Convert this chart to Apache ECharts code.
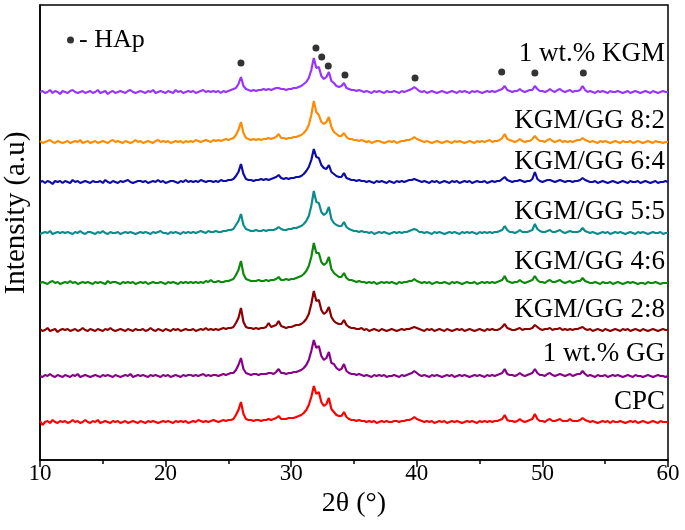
<!DOCTYPE html>
<html>
<head>
<meta charset="utf-8">
<script src="https://cdn.jsdelivr.net/npm/echarts@6/dist/echarts.min.js"></script>
<style>html,body{margin:0;padding:0;background:#fff;}#chart{width:685px;height:530px;}</style>
</head>
<body>
<div id="chart"></div>
<script>
// 2θ sampling: 10.0 to 60.0 in 0.2° steps (251 points)
const thetaStart = 10, thetaStep = 0.2;
const xTicks = [10, 20, 30, 40, 50, 60];
const sampleNames = ['1 wt.% KGM','KGM/GG 8:2','KGM/GG 6:4','KGM/GG 5:5','KGM/GG 4:6','KGM/GG 2:8','1 wt.% GG','CPC'];
const sampleColors = ['#9933ff','#ff8c00','#0c0ca8','#0a8c8c','#0a8a0a','#8b0000','#880088','#ff0000'];
// vertical stacking offsets (a.u.)
const offsets = [368, 318, 278, 227, 177, 130, 84, 38];

const kgm = [
0,1,-1,0,2,-1,1,0,-2,1, 0,-1,1,2,0,-1,0,1,-1,0, 1,-1,0,2,-1,0,1,-2,0,1, -1,0,1,0,-1,1,2,0,-1,0,
1,0,-1,1,0,2,-1,0,1,0, -1,1,0,-1,2,0,1,-1,0,1, 0,1,-1,0,1,2,0,1,0,1, 0,1,-1,1,0,1,2,3,4,8,
15,6,3,2,1,2,1,2,2,3, 2,3,2,3,4,4,3,3,2,3, 3,4,4,5,6,8,10,14,22,34, 24,25,16,13,15,20,11,9,6,5,
6,9,4,3,2,2,1,2,1,0, 1,0,-1,1,0,1,0,-1,1,0, 0,1,0,-1,1,0,1,2,3,5, 3,1,0,1,-1,0,1,0,-1,0,
1,0,-1,0,1,0,-1,1,0,1, 0,-1,1,0,1,0,-1,0,1,0, 1,0,1,2,3,6,2,1,0,1, 1,3,1,0,1,2,2,6,3,1,
1,0,1,3,1,0,2,3,1,0, 1,2,0,1,1,2,6,2,0,1, 0,-1,1,0,1,0,-1,1,0,0, 1,0,-1,0,1,-1,0,1,0,-1,
0,1,0,-1,1,0,-1,0,1,0, 0];
const kgmgg82 = [
1,-1,0,1,2,0,-1,1,0,-1, 0,1,-1,0,1,0,2,-1,0,1, -1,0,1,-1,0,1,0,-1,1,2, 0,1,0,-1,1,0,-1,0,2,0,
1,-1,0,1,0,-1,1,2,0,1, 0,1,-1,0,1,0,1,-1,1,0, 1,0,2,1,0,1,2,1,0,2, 1,2,1,2,3,2,3,4,7,12,
20,9,4,3,2,3,2,3,2,3, 3,4,3,4,5,8,4,4,3,4, 4,5,5,6,7,9,12,17,27,41, 30,27,20,18,20,25,15,10,8,6,
6,9,5,3,3,2,2,1,2,1, 0,1,-1,0,1,1,0,-1,0,1, 0,1,-1,0,1,1,2,2,3,5, 3,2,1,0,1,0,-1,0,1,0,
-1,0,1,0,-1,1,0,1,0,-1, 0,1,0,-1,1,0,1,0,1,2, 0,1,1,2,4,8,3,2,1,0, 1,3,1,0,1,1,3,6,3,1,
1,0,2,3,1,0,1,2,0,1, 0,1,0,1,2,2,4,2,1,0, 1,0,-1,1,0,1,0,-1,0,1, 0,-1,1,0,0,1,-1,0,1,0,
-1,0,1,0,-1,1,0,0,-1,0, 0];
const kgmgg64 = [
0,1,-1,1,0,-2,1,0,1,-1, 1,0,-1,2,0,1,-1,0,1,0, -1,1,0,0,1,-1,2,0,-1,1, 0,-1,1,0,1,2,0,-1,0,1,
1,0,1,-1,0,1,0,2,0,1, -1,0,1,1,0,-1,1,0,2,0, 1,0,1,0,2,1,0,1,1,0, 1,0,2,1,1,2,2,3,6,10,
18,8,3,2,2,1,2,2,3,2, 3,2,3,4,5,7,4,3,4,3, 4,4,5,5,6,8,11,15,22,33, 25,24,17,14,13,17,10,8,6,5,
5,9,4,3,2,2,1,2,1,1, 0,1,0,-1,1,0,1,0,-1,1, 0,-1,1,0,1,0,1,2,2,3, 2,1,0,1,0,-1,1,0,1,-1,
0,1,0,-1,1,0,1,-1,0,1, 0,1,-1,0,1,0,0,1,-1,0, 1,0,1,1,3,5,2,1,0,1, 1,2,1,0,1,1,3,10,3,1,
0,1,2,2,1,0,1,2,1,0, 1,1,0,1,1,2,4,2,1,0, 0,1,-1,0,1,0,-1,0,1,0, -1,0,1,0,-1,1,0,0,1,-1,
0,1,0,-1,0,1,-1,0,0,1, 0];
const kgmgg55 = [
-1,0,1,0,2,-1,0,1,0,1, 0,1,0,-1,1,0,2,0,-1,1, 1,0,-1,1,0,2,0,-1,1,0, 0,1,-1,0,1,0,1,0,-1,0,
1,0,1,0,-1,1,0,1,2,0, 0,-1,1,0,1,0,-1,1,0,1, 0,1,0,1,2,1,0,2,1,1, 2,1,1,2,2,3,3,4,8,12,
19,8,4,3,2,2,3,2,2,3, 2,3,3,3,4,6,4,3,3,4, 4,5,5,6,7,9,12,17,27,42, 31,30,21,18,20,26,14,10,8,7,
7,11,6,4,3,2,2,1,2,1, 1,0,1,-1,0,1,0,1,0,-1, 0,1,0,1,0,1,1,2,3,4, 3,1,1,0,1,0,-1,1,0,1,
0,-1,0,1,0,1,0,-1,1,0, 1,0,1,0,-1,1,0,1,0,1, 0,1,1,2,3,7,3,1,1,0, 1,3,1,1,1,2,3,9,4,2,
1,1,2,3,1,1,2,3,1,0, 1,2,1,1,1,2,5,2,1,0, 1,0,-1,0,1,0,1,-1,0,1, 0,1,0,-1,0,1,0,-1,1,0,
1,0,-1,0,1,0,0,1,-1,0, 0];
const kgmgg46 = [
0,1,0,-1,1,2,0,1,-1,0, 1,0,2,0,1,-1,0,1,0,1, 0,-1,1,0,1,0,-1,2,0,1, 1,0,-1,1,0,1,0,1,-1,0,
1,0,1,-1,0,1,0,0,1,0, -1,1,0,1,0,-1,1,0,1,0, 1,0,1,0,1,0,2,1,3,1, 1,2,1,1,2,2,3,4,8,13,
22,9,4,3,2,2,2,3,2,2, 3,2,3,3,4,6,3,3,4,3, 4,4,5,6,7,9,12,17,26,40, 30,30,21,18,20,26,14,10,8,6,
6,10,5,3,3,2,1,2,1,1, 0,1,0,1,-1,0,1,0,1,0, 1,0,-1,1,0,1,1,2,2,4, 2,1,0,1,0,1,-1,0,1,0,
0,1,0,-1,1,0,1,0,-1,0, 1,0,0,1,-1,0,1,0,1,0, 1,0,1,2,3,7,2,1,0,1, 1,3,1,0,1,2,3,7,3,1,
1,0,2,3,1,1,2,3,1,0, 1,2,0,1,2,2,5,2,1,0, 0,1,0,-1,1,0,0,1,-1,0, 1,0,-1,0,1,0,1,0,-1,0,
0,-1,1,0,0,1,0,-1,0,0, 0];
const kgmgg28 = [
1,-1,0,2,-1,0,1,-2,0,1, 0,1,-1,0,1,-1,0,2,0,-1, 1,0,-1,1,0,-1,1,0,2,0, -1,0,1,0,-1,1,0,-1,1,0,
0,1,-1,0,2,0,-1,1,0,-1, 1,0,-1,1,0,1,-1,0,1,0, 0,1,-1,0,1,0,2,0,1,0, 1,0,1,2,1,2,2,3,7,12,
22,8,3,2,2,1,2,1,2,2, 3,7,3,4,5,9,4,3,2,3, 3,4,5,5,6,8,11,16,26,39, 29,30,20,16,18,23,13,9,7,6,
6,10,5,3,2,2,1,1,2,0, 1,-1,0,1,0,-1,1,0,-1,0, 1,0,-1,0,1,0,1,1,2,3, 2,1,0,-1,1,0,1,-1,0,1,
0,-1,1,0,-1,0,1,0,1,-1, 0,1,0,-1,0,1,0,-1,1,0, 1,0,0,1,3,6,2,1,0,0, 1,2,0,1,1,1,2,5,3,1,
0,1,1,2,0,1,1,2,0,1, 0,1,0,1,1,2,3,1,0,1, -1,0,1,0,-1,1,0,-1,0,1, 0,-1,1,0,1,-1,0,1,0,-1,
1,0,-1,0,1,0,-1,0,1,0, 0];
const gg = [
0,-1,1,0,2,0,-1,1,0,-1, 1,0,-1,1,0,2,-1,0,1,0, -1,0,1,0,-1,1,0,1,0,-1, 1,0,-1,0,1,0,2,-1,0,1,
0,1,0,-1,1,0,1,0,-1,1, 0,1,-1,0,1,0,-1,1,0,1, 1,0,1,0,1,2,0,1,0,1, 1,0,1,2,1,2,3,3,6,11,
18,7,3,2,1,2,2,1,2,2, 2,3,3,2,4,7,3,3,2,3, 3,4,4,5,6,8,11,16,25,36, 28,30,20,16,18,24,13,12,8,6,
7,12,5,3,2,2,1,2,1,0, 1,0,-1,1,0,1,0,1,-1,0, 0,1,0,-1,1,0,1,2,3,5, 3,1,0,1,0,-1,1,0,1,0,
-1,0,1,0,1,-1,0,1,0,1, 0,-1,0,1,0,1,0,-1,1,0, 1,0,1,2,3,7,2,1,1,0, 1,3,1,0,1,2,3,7,3,1,
1,0,2,3,1,0,1,2,1,0, 1,2,0,1,2,2,5,2,0,1, 0,-1,1,0,0,1,-1,0,1,0, 1,0,-1,0,1,0,-1,1,0,0,
-1,0,1,0,-1,0,1,0,0,-1, 0];
const cpc = [
1,-3,0,1,-1,2,0,-1,1,0, 1,-1,0,2,0,1,-1,0,2,0, -1,1,0,2,-1,0,1,0,-1,1, 0,1,-1,0,1,-1,0,1,0,-1,
1,0,-1,1,0,1,0,-1,0,1, 0,1,0,-1,1,0,1,0,1,-1, 0,1,0,2,1,0,1,0,1,2, 1,0,1,2,1,2,2,3,7,12,
20,8,3,2,2,1,2,2,1,2, 2,3,2,3,4,6,3,3,3,4, 4,4,5,6,7,9,12,17,25,36, 28,30,20,16,18,24,13,10,7,6,
6,10,5,3,2,2,1,2,1,1, 0,1,0,1,-1,0,1,0,1,0, 0,1,1,0,1,1,2,2,3,5, 3,2,1,0,1,0,1,-1,0,1,
0,1,-1,0,1,0,1,0,-1,0, 1,0,1,0,-1,1,0,1,0,1, 0,1,1,2,3,7,2,1,1,0, 1,3,1,0,1,2,3,8,3,1,
1,0,2,3,1,1,2,3,1,1, 1,3,1,1,1,2,4,2,1,0, 1,0,-1,0,1,0,1,-1,1,0, 0,1,0,-1,0,1,0,1,-1,0,
1,0,-1,0,1,0,-1,1,0,0, 0];
const sampleData = [kgm, kgmgg82, kgmgg64, kgmgg55, kgmgg46, kgmgg28, gg, cpc];

// HAp reflection markers (2θ, a.u. on the stacked scale)
const hapTheta = [26.0, 31.97, 32.43, 32.95, 34.28, 39.86, 46.76, 49.4, 53.26];
const hapLevel = [397, 412, 403, 394, 385, 382, 388, 387, 387];

const serif = '"Liberation Serif","Times New Roman",serif';
const series = sampleData.map((arr, k) => ({
  name: sampleNames[k],
  type: 'line',
  symbol: 'none',
  lineStyle: { color: sampleColors[k], width: 2.2 },
  itemStyle: { color: sampleColors[k] },
  z: 3,
  data: arr.map((v, i) => [+(thetaStart + i * thetaStep).toFixed(2), v + offsets[k]])
}));
series.push({
  name: 'HAp',
  type: 'scatter',
  symbol: 'circle',
  symbolSize: 7,
  itemStyle: { color: '#000' },
  z: 5,
  data: hapTheta.map((t, i) => [t, hapLevel[i]])
});

const labelY = [55, 122, 163, 213, 263, 311, 355, 403];
const graphics = sampleNames.map((n, k) => ({
  type: 'text', right: 20, top: labelY[k] - 15, z: 10,
  style: { text: n, fontFamily: serif, fontSize: 27, fill: '#000', textAlign: 'right' }
}));
graphics.push({
  type: 'text', x: 16, y: 213, rotation: Math.PI / 2, z: 10,
  style: { text: 'Intensity (a.u)', fontFamily: serif, fontSize: 29, fill: '#000',
           textAlign: 'center', textVerticalAlign: 'middle' }
});

const chart = echarts.init(document.getElementById('chart'));
chart.setOption({
  animation: false,
  backgroundColor: '#fff',
  grid: { left: 40, right: 17, top: 5, bottom: 70, containLabel: false, outerBoundsMode: 'none',
          show: true, borderColor: '#000', borderWidth: 1.5, backgroundColor: 'transparent' },
  legend: {
    data: ['HAp'], left: 62, top: 22, icon: 'circle', itemWidth: 7, itemHeight: 7,
    formatter: () => '- HAp',
    textStyle: { fontFamily: serif, fontSize: 26, color: '#000' }
  },
  xAxis: {
    type: 'value', min: xTicks[0], max: xTicks[xTicks.length - 1], interval: 10,
    name: '2θ (°)', nameLocation: 'middle', nameGap: 12,
    nameTextStyle: { fontFamily: serif, fontSize: 28, color: '#000', verticalAlign: 'top' },
    axisLine: { lineStyle: { color: '#000', width: 1.5 } },
    axisTick: { show: true, length: 7, lineStyle: { color: '#000', width: 1.5 } },
    minorTick: { show: true, splitNumber: 2, length: 4, lineStyle: { color: '#000', width: 1.5 } },
    axisLabel: { fontFamily: serif, fontSize: 23, color: '#000', margin: 2 },
    splitLine: { show: false }
  },
  yAxis: {
    type: 'value', min: 0, max: 455,
    axisLine: { show: true, lineStyle: { color: '#000', width: 1.5 } },
    axisTick: { show: false }, axisLabel: { show: false }, splitLine: { show: false }
  },
  graphic: graphics,
  series: series
});
</script>
</body>
</html>
